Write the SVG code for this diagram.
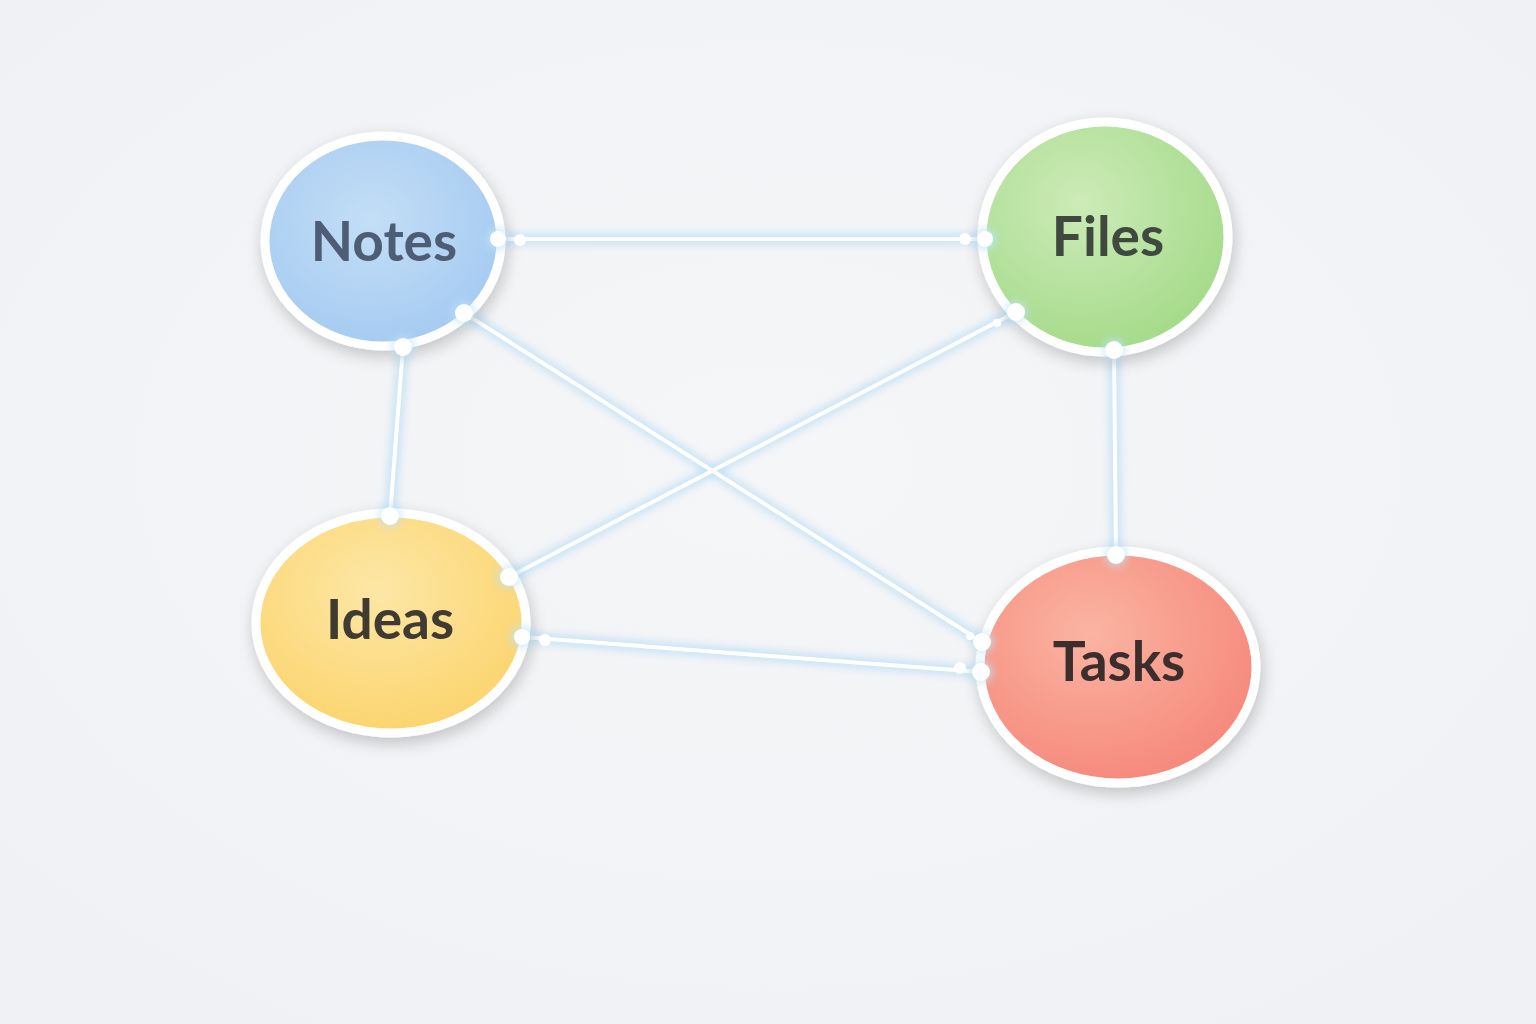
<svg xmlns="http://www.w3.org/2000/svg" width="1536" height="1024" viewBox="0 0 1536 1024">
<defs>
<radialGradient id="bg" cx="50%" cy="45%" r="70%"><stop offset="0" stop-color="#f5f6f8"/><stop offset="1" stop-color="#f0f1f4"/></radialGradient>
<radialGradient id="gN" cx="45%" cy="40%" r="65%"><stop offset="0" stop-color="#c4def6"/><stop offset="1" stop-color="#a3caf1"/></radialGradient>
<radialGradient id="gF" cx="40%" cy="35%" r="70%"><stop offset="0" stop-color="#cdebb8"/><stop offset="1" stop-color="#a3da88"/></radialGradient>
<radialGradient id="gI" cx="45%" cy="35%" r="70%"><stop offset="0" stop-color="#fde7a6"/><stop offset="1" stop-color="#fbd36a"/></radialGradient>
<radialGradient id="gT" cx="40%" cy="35%" r="70%"><stop offset="0" stop-color="#fbb4a2"/><stop offset="1" stop-color="#f5877a"/></radialGradient>
<filter id="shadow" x="-30%" y="-30%" width="160%" height="160%"><feGaussianBlur in="SourceAlpha" stdDeviation="8"/><feOffset dx="2" dy="6"/><feComponentTransfer><feFuncA type="linear" slope="0.2"/></feComponentTransfer><feMerge><feMergeNode/><feMergeNode in="SourceGraphic"/></feMerge></filter>
<filter id="glow" x="-20%" y="-20%" width="140%" height="140%"><feGaussianBlur stdDeviation="4"/></filter>
<style>
.glow{stroke:#b8dcf5;stroke-width:10;fill:none;stroke-linecap:round;opacity:0.8}
.ln{stroke:#ffffff;stroke-width:4;fill:none;stroke-linecap:round}
.dot{fill:#ffffff}
.dotg{fill:#bfe3f7}
.ring{stroke:#ffffff;stroke-width:9}
.lbl{font-family:Lato,"Noto Sans","Liberation Sans",sans-serif;font-weight:700;font-size:55px;text-anchor:middle;dominant-baseline:central}
</style>
</defs>
<rect width="1536" height="1024" fill="url(#bg)"/>
<g id="connectors">
<g filter="url(#glow)">
<line class="glow" x1="500" y1="239" x2="985" y2="239"/>
<line class="glow" x1="464" y1="313" x2="982" y2="642"/>
<line class="glow" x1="1016" y1="312" x2="509" y2="577"/>
<line class="glow" x1="403" y1="347" x2="390" y2="516"/>
<line class="glow" x1="1114" y1="350" x2="1116" y2="555"/>
<line class="glow" x1="522" y1="637" x2="981" y2="672"/>
</g>
<line class="ln" x1="500" y1="239" x2="985" y2="239"/>
<line class="ln" x1="464" y1="313" x2="982" y2="642"/>
<line class="ln" x1="1016" y1="312" x2="509" y2="577"/>
<line class="ln" x1="403" y1="347" x2="390" y2="516"/>
<line class="ln" x1="1114" y1="350" x2="1116" y2="555"/>
<line class="ln" x1="522" y1="637" x2="981" y2="672"/>
</g>
<g id="node-notes" filter="url(#shadow)">
<ellipse class="ring" cx="383" cy="241" rx="118" ry="105" fill="url(#gN)"/>
<text class="lbl" x="384" y="240" fill="#4e5d76">Notes</text>
</g>
<g id="node-files" filter="url(#shadow)">
<ellipse class="ring" cx="1105" cy="237" rx="123" ry="115" fill="url(#gF)"/>
<text class="lbl" x="1108" y="235" fill="#404a40">Files</text>
</g>
<g id="node-ideas" filter="url(#shadow)">
<ellipse class="ring" cx="391" cy="623" rx="135" ry="110" fill="url(#gI)"/>
<text class="lbl" x="390" y="618" fill="#3f3a30">Ideas</text>
</g>
<g id="node-tasks" filter="url(#shadow)">
<ellipse class="ring" cx="1118" cy="667" rx="138" ry="116" fill="url(#gT)"/>
<text class="lbl" x="1119" y="660" fill="#3d2e2f">Tasks</text>
</g>
<g id="ports">
<g filter="url(#glow)" opacity="0.8">
<circle class="dotg" cx="498" cy="239" r="11"/><circle class="dotg" cx="985" cy="239" r="11"/>
<circle class="dotg" cx="464" cy="313" r="11"/><circle class="dotg" cx="1016" cy="312" r="11"/>
<circle class="dotg" cx="403" cy="347" r="11"/><circle class="dotg" cx="390" cy="516" r="11"/>
<circle class="dotg" cx="1114" cy="350" r="11"/><circle class="dotg" cx="1116" cy="555" r="11"/>
<circle class="dotg" cx="509" cy="577" r="11"/><circle class="dotg" cx="522" cy="637" r="11"/>
<circle class="dotg" cx="982" cy="642" r="11"/><circle class="dotg" cx="981" cy="672" r="11"/>
</g>
<circle class="dot" cx="498" cy="239" r="8"/><circle class="dot" cx="520" cy="240" r="6"/>
<circle class="dot" cx="965" cy="239" r="6"/><circle class="dot" cx="985" cy="239" r="8"/>
<circle class="dot" cx="464" cy="313" r="9"/>
<circle class="dot" cx="1016" cy="312" r="9"/><circle class="dot" cx="997" cy="323" r="4"/>
<circle class="dot" cx="403" cy="347" r="9"/><circle class="dot" cx="390" cy="516" r="9"/>
<circle class="dot" cx="1114" cy="350" r="9"/><circle class="dot" cx="1116" cy="555" r="9"/>
<circle class="dot" cx="509" cy="577" r="9"/>
<circle class="dot" cx="522" cy="637" r="8"/><circle class="dot" cx="545" cy="640" r="6"/>
<circle class="dot" cx="982" cy="642" r="9"/><circle class="dot" cx="970" cy="636" r="4"/>
<circle class="dot" cx="981" cy="672" r="9"/><circle class="dot" cx="960" cy="668" r="6"/>
</g>
</svg>
